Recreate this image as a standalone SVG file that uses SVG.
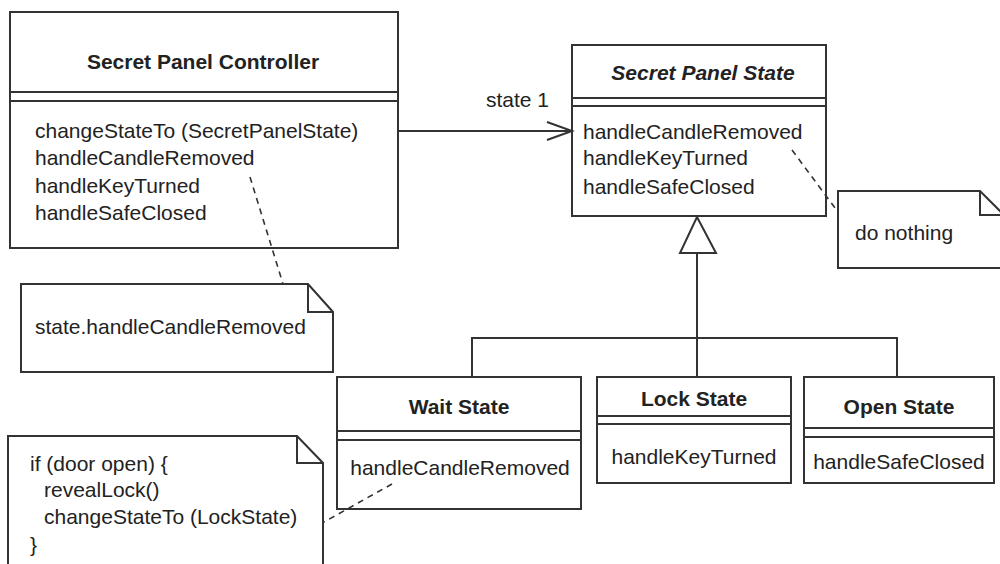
<svg xmlns="http://www.w3.org/2000/svg" width="1000" height="564" viewBox="0 0 1000 564">
<defs>
<style>
.box{fill:#fff;stroke:#333;stroke-width:2}
.ln{fill:none;stroke:#333;stroke-width:2}
.dash{fill:none;stroke:#333;stroke-width:1.6;stroke-dasharray:6 5}
.t{font-family:"Liberation Sans",Arial,Helvetica,sans-serif;font-size:21px;fill:#222}
.b{font-weight:bold;text-anchor:middle}
.i{font-style:italic}
.m{text-anchor:middle}
</style>
</defs>
<rect width="1000" height="564" fill="#fff"/>

<g id="controller">
<rect class="box" x="10" y="12" width="388" height="236"/>
<line class="ln" x1="10" y1="92" x2="398" y2="92"/>
<line class="ln" x1="10" y1="101" x2="398" y2="101"/>
<text class="t b" x="203" y="69">Secret Panel Controller</text>
<text class="t" x="35" y="138">changeStateTo (SecretPanelState)</text>
<text class="t" x="35" y="165">handleCandleRemoved</text>
<text class="t" x="35" y="193">handleKeyTurned</text>
<text class="t" x="35" y="220">handleSafeClosed</text>
</g>

<g id="state">
<rect class="box" x="572" y="45" width="254" height="171"/>
<line class="ln" x1="572" y1="98" x2="826" y2="98"/>
<line class="ln" x1="572" y1="106" x2="826" y2="106"/>
<text class="t b i" x="703" y="80">Secret Panel State</text>
<text class="t" x="583" y="139">handleCandleRemoved</text>
<text class="t" x="583" y="165">handleKeyTurned</text>
<text class="t" x="583" y="194">handleSafeClosed</text>
</g>

<g id="wait">
<rect class="box" x="337" y="377" width="244" height="132"/>
<line class="ln" x1="337" y1="431" x2="581" y2="431"/>
<line class="ln" x1="337" y1="440" x2="581" y2="440"/>
<text class="t b" x="459" y="414">Wait State</text>
<text class="t m" x="460" y="475">handleCandleRemoved</text>
</g>

<g id="lock">
<rect class="box" x="597" y="377" width="194" height="106"/>
<line class="ln" x1="597" y1="416" x2="791" y2="416"/>
<line class="ln" x1="597" y1="424" x2="791" y2="424"/>
<text class="t b" x="694" y="406">Lock State</text>
<text class="t m" x="694" y="464">handleKeyTurned</text>
</g>

<g id="open">
<rect class="box" x="804" y="377" width="190" height="106"/>
<line class="ln" x1="804" y1="428" x2="994" y2="428"/>
<line class="ln" x1="804" y1="437" x2="994" y2="437"/>
<text class="t b" x="899" y="414">Open State</text>
<text class="t m" x="899" y="469">handleSafeClosed</text>
</g>

<g id="note-controller">
<path class="box" d="M21,284 H308 L333,312 V372 H21 Z"/>
<polyline class="ln" points="308,284 308,312 333,312"/>
<text class="t" x="35" y="334">state.handleCandleRemoved</text>
</g>

<g id="note-wait">
<path class="box" d="M8,436 H297 L323,463 V570 H8 Z"/>
<polyline class="ln" points="297,436 297,463 323,463"/>
<text class="t" x="30" y="471">if (door open) {</text>
<text class="t" x="44" y="497">revealLock()</text>
<text class="t" x="44" y="524">changeStateTo (LockState)</text>
<text class="t" x="30" y="552">}</text>
</g>

<g id="note-state">
<path class="box" d="M838,191 H980 L1004,215 V268 H838 Z"/>
<polyline class="ln" points="980,191 980,215 1004,215"/>
<text class="t" x="855" y="240">do nothing</text>
</g>

<g id="connectors">
<line class="ln" x1="398" y1="131" x2="572" y2="131"/>
<polyline class="ln" points="547,122 572,131 547,140"/>
<text class="t" x="486" y="107">state 1</text>
<polygon class="box" points="697,217 716,253 680,253"/>
<line class="ln" x1="697" y1="253" x2="697" y2="377"/>
<polyline class="ln" points="472,377 472,338 897,338 897,377"/>
<line class="dash" x1="250" y1="177" x2="283" y2="284"/>
<line class="dash" x1="792" y1="150" x2="838" y2="212"/>
<line class="dash" x1="392" y1="484" x2="324" y2="522"/>
</g>
</svg>
